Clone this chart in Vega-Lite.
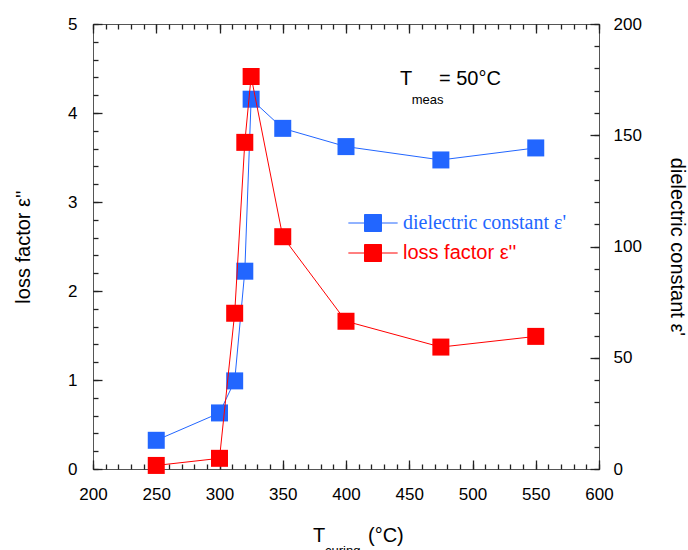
{
  "$schema": "https://vega.github.io/schema/vega-lite/v6.json",
  "width": 506,
  "height": 445,
  "autosize": {"type": "none"},
  "padding": {"left": 93, "top": 24, "right": 89, "bottom": 81},
  "background": "white",
  "config": {
    "view": {"stroke": "#555555", "strokeWidth": 1},
    "font": "Liberation Sans",
    "axis": {
      "grid": false,
      "domain": false,
      "tickColor": "#222222",
      "tickWidth": 1.3,
      "tickOpacity": 1,
      "labelFont": "Liberation Sans",
      "labelFontSize": 17,
      "labelColor": "black",
      "labelFlush": false,
      "labelOverlap": false,
      "titleFont": "Liberation Sans",
      "titleFontSize": 20,
      "titleFontWeight": "normal",
      "titleColor": "black"
    }
  },
  "datasets": {
    "loss": [
      {"T": 250, "v": 0.04}, {"T": 300, "v": 0.12}, {"T": 312, "v": 1.75},
      {"T": 320, "v": 3.67}, {"T": 325, "v": 4.41}, {"T": 350, "v": 2.61},
      {"T": 400, "v": 1.66}, {"T": 475, "v": 1.37}, {"T": 550, "v": 1.49}
    ],
    "diel": [
      {"T": 250, "v": 12.9}, {"T": 300, "v": 25.2}, {"T": 312, "v": 39.6},
      {"T": 320, "v": 88.9}, {"T": 325, "v": 166.2}, {"T": 350, "v": 153.1},
      {"T": 400, "v": 144.9}, {"T": 475, "v": 138.9}, {"T": 550, "v": 144.3}
    ],
    "one": [{"k": 1}]
  },
  "layer": [
    {
      "data": {"name": "diel"},
      "mark": {"type": "line", "strokeWidth": 1},
      "encoding": {
        "x": {"field": "T", "type": "quantitative", "scale": {"domain": [200, 600]},
          "axis": {"orient": "top", "values": [200, 250, 300, 350, 400, 450, 500, 550, 600], "offset": -9, "tickSize": 9, "labels": false, "title": null}},
        "y": {"field": "v", "type": "quantitative", "scale": {"domain": [0, 200]},
          "axis": {"orient": "right", "values": [0, 50, 100, 150, 200], "offset": -9, "tickSize": 9, "labelPadding": 14, "title": "dielectric constant ε'", "titlePadding": 25}},
        "color": {"datum": "dielectric constant ε'", "type": "nominal",
          "scale": {"domain": ["dielectric constant ε'", "loss factor ε''"], "range": ["#2266ff", "#ff0000"]},
          "legend": {"orient": "none", "legendX": 270, "legendY": 189, "title": null,
            "symbolType": "M-2.9,0H2.9M-1,-1H1V1H-1Z", "symbolSize": 289, "symbolStrokeWidth": 1,
            "symbolFillColor": {"expr": "indexof(datum.value,'loss')>=0 ? '#ff0000' : '#2266ff'"},
            "labelColor": {"expr": "indexof(datum.value,'loss')>=0 ? '#ff0000' : '#2266ff'"},
            "labelFont": {"expr": "indexof(datum.value,'loss')>=0 ? 'Liberation Sans' : 'Liberation Serif'"},
            "labelFontSize": 20, "labelOffset": 20, "rowPadding": 8, "labelLimit": 300}}
      }
    },
    {
      "data": {"name": "diel"},
      "mark": {"type": "point", "shape": "square", "filled": true, "size": 289, "opacity": 1, "color": "#2266ff"},
      "encoding": {
        "x": {"field": "T", "type": "quantitative", "scale": {"domain": [200, 600]},
          "axis": {"orient": "top", "values": [200,210,220,230,240,250,260,270,280,290,300,310,320,330,340,350,360,370,380,390,400,410,420,430,440,450,460,470,480,490,500,510,520,530,540,550,560,570,580,590,600], "offset": -5, "tickSize": 5, "labels": false, "title": null}},
        "y": {"field": "v", "type": "quantitative", "scale": {"domain": [0, 200]},
          "axis": {"orient": "right", "values": [0,10,20,30,40,50,60,70,80,90,100,110,120,130,140,150,160,170,180,190,200], "offset": -5, "tickSize": 5, "labels": false, "title": null}}
      }
    },
    {
      "data": {"name": "loss"},
      "mark": {"type": "line", "strokeWidth": 1},
      "encoding": {
        "x": {"field": "T", "type": "quantitative", "scale": {"domain": [200, 600]},
          "axis": {"orient": "bottom", "values": [200, 250, 300, 350, 400, 450, 500, 550, 600], "offset": -9, "tickSize": 9, "labelPadding": 17, "title": null}},
        "y": {"field": "v", "type": "quantitative", "scale": {"domain": [0, 5]},
          "axis": {"orient": "left", "values": [0, 1, 2, 3, 4, 5], "offset": -9, "tickSize": 9, "labelPadding": 16, "title": "loss factor ε''", "titlePadding": 34}},
        "color": {"datum": "loss factor ε''", "type": "nominal",
          "scale": {"domain": ["dielectric constant ε'", "loss factor ε''"], "range": ["#2266ff", "#ff0000"]},
          "legend": {"orient": "none", "legendX": 270, "legendY": 189, "title": null,
            "symbolType": "M-2.9,0H2.9M-1,-1H1V1H-1Z", "symbolSize": 289, "symbolStrokeWidth": 1,
            "symbolFillColor": {"expr": "indexof(datum.value,'loss')>=0 ? '#ff0000' : '#2266ff'"},
            "labelColor": {"expr": "indexof(datum.value,'loss')>=0 ? '#ff0000' : '#2266ff'"},
            "labelFont": {"expr": "indexof(datum.value,'loss')>=0 ? 'Liberation Sans' : 'Liberation Serif'"},
            "labelFontSize": 20, "labelOffset": 20, "rowPadding": 8, "labelLimit": 300}}
      }
    },
    {
      "data": {"name": "loss"},
      "mark": {"type": "point", "shape": "square", "filled": true, "size": 289, "opacity": 1, "color": "#ff0000"},
      "encoding": {
        "x": {"field": "T", "type": "quantitative", "scale": {"domain": [200, 600]},
          "axis": {"orient": "bottom", "values": [200,210,220,230,240,250,260,270,280,290,300,310,320,330,340,350,360,370,380,390,400,410,420,430,440,450,460,470,480,490,500,510,520,530,540,550,560,570,580,590,600], "offset": -5, "tickSize": 5, "labels": false, "title": null}},
        "y": {"field": "v", "type": "quantitative", "scale": {"domain": [0, 5]},
          "axis": {"orient": "left", "values": [0,0.2,0.4,0.6,0.8,1,1.2,1.4,1.6,1.8,2,2.2,2.4,2.6,2.8,3,3.2,3.4,3.6,3.8,4,4.2,4.4,4.6,4.8,5], "offset": -5, "tickSize": 5, "labels": false, "title": null}}
      }
    },
    {
      "data": {"name": "one"},
      "mark": {"type": "text", "text": "T", "fontSize": 20, "align": "left", "baseline": "alphabetic", "color": "black"},
      "encoding": {
        "x": {"datum": 442.7, "type": "quantitative", "scale": {"domain": [200, 600]}, "axis": null},
        "y": {"datum": 4.315, "type": "quantitative", "scale": {"domain": [0, 5]}, "axis": null}
      }
    },
    {
      "data": {"name": "one"},
      "mark": {"type": "text", "text": "meas", "fontSize": 13, "align": "left", "baseline": "alphabetic", "color": "black"},
      "encoding": {
        "x": {"datum": 451.9, "type": "quantitative", "scale": {"domain": [200, 600]}, "axis": null},
        "y": {"datum": 4.1, "type": "quantitative", "scale": {"domain": [0, 5]}, "axis": null}
      }
    },
    {
      "data": {"name": "one"},
      "mark": {"type": "text", "text": "= 50°C", "fontSize": 20, "align": "left", "baseline": "alphabetic", "color": "black"},
      "encoding": {
        "x": {"datum": 473.5, "type": "quantitative", "scale": {"domain": [200, 600]}, "axis": null},
        "y": {"datum": 4.315, "type": "quantitative", "scale": {"domain": [0, 5]}, "axis": null}
      }
    },
    {
      "data": {"name": "one"},
      "mark": {"type": "text", "text": "T", "fontSize": 20, "align": "left", "baseline": "alphabetic", "color": "black"},
      "encoding": {
        "x": {"datum": 373.9, "type": "quantitative", "scale": {"domain": [200, 600]}, "axis": null},
        "y": {"datum": -0.817, "type": "quantitative", "scale": {"domain": [0, 5]}, "axis": null}
      }
    },
    {
      "data": {"name": "one"},
      "mark": {"type": "text", "text": "curing", "fontSize": 13, "align": "left", "baseline": "alphabetic", "color": "black"},
      "encoding": {
        "x": {"datum": 383.4, "type": "quantitative", "scale": {"domain": [200, 600]}, "axis": null},
        "y": {"datum": -0.966, "type": "quantitative", "scale": {"domain": [0, 5]}, "axis": null}
      }
    },
    {
      "data": {"name": "one"},
      "mark": {"type": "text", "text": "(°C)", "fontSize": 20, "align": "left", "baseline": "alphabetic", "color": "black"},
      "encoding": {
        "x": {"datum": 417.4, "type": "quantitative", "scale": {"domain": [200, 600]}, "axis": null},
        "y": {"datum": -0.817, "type": "quantitative", "scale": {"domain": [0, 5]}, "axis": null}
      }
    }
  ],
  "resolve": {
    "scale": {"y": "independent"},
    "axis": {"x": "independent", "y": "independent"}
  }
}
